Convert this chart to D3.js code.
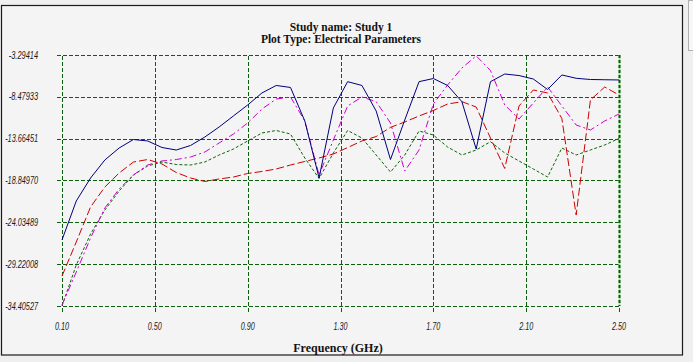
<!DOCTYPE html>
<html>
<head>
<meta charset="utf-8">
<script src="https://cdn.jsdelivr.net/npm/d3@7"></script>
<style>
  html, body { margin: 0; padding: 0; background: #efefef; }
  svg { display: block; }
</style>
</head>
<body>
<svg id="chart" width="693" height="362"></svg>
<script>
// ---------- DATA ----------
const titleLines = ["Study name: Study 1", "Plot Type: Electrical Parameters"];
const xAxisTitle = "Frequency (GHz)";
const xTicks = [0.10, 0.50, 0.90, 1.30, 1.70, 2.10, 2.50];
const yTicks = [-3.29414, -8.47933, -13.66451, -18.84970, -24.03489, -29.22008, -34.40527];
const yTickLabels = ["-3.29414", "-8.47933", "-13.66451", "-18.84970", "-24.03489", "-29.22008", "-34.40527"];

const freq = [0.1, 0.1615, 0.2231, 0.2846, 0.3462, 0.4077, 0.4692, 0.5308, 0.5923, 0.6538,
              0.7154, 0.7769, 0.8385, 0.9, 0.9615, 1.0231, 1.0846, 1.1462, 1.2077, 1.2692,
              1.3308, 1.3923, 1.4538, 1.5154, 1.5769, 1.6385, 1.7, 1.7615, 1.8231, 1.8846,
              1.9462, 2.0077, 2.0692, 2.1308, 2.1923, 2.2538, 2.3154, 2.3769, 2.4385, 2.5];

const blueSeries = [-26.22, -21.39, -18.54, -16.31, -14.82, -13.77, -13.95, -14.76, -15.07, -14.51,
                    -13.46, -12.22, -10.85, -9.49, -8.00, -7.07, -7.32, -11.47, -18.54, -9.86,
                    -6.60, -7.07, -10.24, -16.25, -11.35, -6.60, -6.21, -7.07, -9.08, -14.95,
                    -6.60, -5.65, -5.84, -6.27, -7.57, -5.77, -6.18, -6.33, -6.36, -6.39];

const redSeries = [-30.69, -26.47, -22.13, -19.66, -17.92, -16.56, -16.25, -16.80, -17.86, -18.54,
                   -18.97, -18.66, -18.42, -17.98, -17.73, -17.42, -16.93, -16.49, -16.06, -15.57,
                   -14.76, -13.95, -13.40, -12.26, -11.60, -10.85, -10.17, -9.37, -9.08, -9.74,
                   -13.58, -17.36, -9.61, -7.63, -8.00, -11.17, -23.13, -8.87, -7.26, -8.25];

const magentaSeries = [-34.28, -30.19, -25.98, -22.26, -19.90, -18.17, -16.93, -16.43, -16.25, -15.94,
                       -15.32, -14.20, -13.09, -11.72, -9.99, -8.75, -8.50, -11.47, -18.17, -13.83,
                       -9.61, -8.50, -9.08, -11.72, -17.67, -15.07, -9.37, -7.01, -4.91, -3.40,
                       -5.22, -9.49, -11.23, -9.24, -7.26, -9.61, -11.97, -12.59, -11.47, -10.61];

const greenSeries = [-34.40, -29.32, -25.48, -22.51, -20.15, -18.17, -17.05, -16.56, -16.87, -16.93,
                     -16.56, -15.69, -14.95, -13.95, -12.96, -12.65, -13.09, -16.06, -18.60, -15.44,
                     -12.65, -13.58, -15.69, -17.80, -15.69, -12.71, -13.21, -14.70, -15.69, -15.07,
                     -14.04, -15.44, -16.43, -17.42, -18.42, -14.82, -15.69, -15.07, -14.45, -13.64];

// ---------- DRAW ----------
const svg = d3.select("#chart");

// panel
svg.append("rect").attr("x", 0).attr("y", 0).attr("width", 693).attr("height", 362).attr("fill", "#efefef");
svg.append("rect").attr("x", 1.5).attr("y", 5.5).attr("width", 681).attr("height", 349.5)
   .attr("fill", "#f4f4f4").attr("stroke", "#1a1a1a").attr("stroke-width", 1.2);
// scrollbar-like strip on the right
svg.append("rect").attr("x", 688.5).attr("y", 0.5).attr("width", 5).attr("height", 50)
   .attr("fill", "#f7f7f7").attr("stroke", "#b0b0b0").attr("stroke-width", 1);

const x = d3.scaleLinear().domain([0.10, 2.50]).range([62, 619]);
const y = d3.scaleLinear().domain([-34.40527, -3.29414]).range([306, 55]);

const gridColor = "#0b5e0b";
const g = svg.append("g");

// horizontal grid lines (via axis)
const yAxis = d3.axisLeft(y).tickValues(yTicks).tickSize(-(619 - 57)).tickFormat("");
const yg = g.append("g").attr("transform", "translate(57,0)").call(yAxis);
yg.select(".domain").remove();
yg.selectAll(".tick line").attr("stroke", gridColor).attr("stroke-dasharray", "4,2").attr("shape-rendering", "crispEdges");

// vertical grid lines (via axis)
const xAxis = d3.axisBottom(x).tickValues(xTicks).tickSize(-(312 - 55)).tickFormat("");
const xg = g.append("g").attr("transform", "translate(0,312)").call(xAxis);
xg.select(".domain").remove();
xg.selectAll(".tick line").attr("stroke", gridColor).attr("stroke-dasharray", "4,2").attr("shape-rendering", "crispEdges");

// heavier right edge
svg.append("line").attr("x1", x(2.5) + 0.5).attr("x2", x(2.5) + 0.5).attr("y1", 55).attr("y2", 306)
   .attr("stroke", "#a8e8a8").attr("stroke-width", 2);
svg.append("line").attr("x1", x(2.5) + 0.5).attr("x2", x(2.5) + 0.5).attr("y1", 55).attr("y2", 306)
   .attr("stroke", "#0a5a0a").attr("stroke-width", 2).attr("stroke-dasharray", "3,2");

// tick labels (narrow italic, compressed to the reference widths)
const labelFont = "'Liberation Sans', Arial, sans-serif";
svg.append("g").selectAll("text").data(yTicks).join("text")
   .attr("x", 38).attr("y", d => y(d) + 3.5)
   .attr("text-anchor", "end")
   .attr("font-family", labelFont).attr("font-style", "italic").attr("font-size", "10px")
   .attr("fill", "#1a1a1a")
   .attr("textLength", (d, i) => yTickLabels[i].length * 3.65)
   .attr("lengthAdjust", "spacingAndGlyphs")
   .text((d, i) => yTickLabels[i]);

svg.append("g").selectAll("text").data(xTicks).join("text")
   .attr("x", d => x(d)).attr("y", 330)
   .attr("text-anchor", "middle")
   .attr("font-family", labelFont).attr("font-style", "italic").attr("font-size", "10px")
   .attr("fill", "#1a1a1a")
   .attr("textLength", 14)
   .attr("lengthAdjust", "spacingAndGlyphs")
   .text(d => d.toFixed(2));

// titles
const titleFont = "'Liberation Serif', 'Times New Roman', serif";
svg.append("g").selectAll("text").data(titleLines).join("text")
   .attr("x", 341).attr("y", (d, i) => 31 + i * 12)
   .attr("text-anchor", "middle")
   .attr("font-family", titleFont).attr("font-weight", "bold").attr("font-size", "11.5px")
   .attr("fill", "#111")
   .text(d => d);

svg.append("text").attr("x", 338).attr("y", 352).attr("text-anchor", "middle")
   .attr("font-family", titleFont).attr("font-weight", "bold").attr("font-size", "12px")
   .attr("fill", "#111").text(xAxisTitle);

// series
const line = d3.line().x((d, i) => x(freq[i])).y(d => y(d));
const series = [
  { data: greenSeries, color: "#0a640a", dash: "3,2" },
  { data: magentaSeries, color: "#cc00cc", dash: "7,3,2,3" },
  { data: redSeries, color: "#cc0000", dash: "8,3" },
  { data: blueSeries, color: "#00007f", dash: null }
];
svg.append("g").selectAll("path").data(series).join("path")
   .attr("d", s => line(s.data))
   .attr("fill", "none")
   .attr("stroke", s => s.color)
   .attr("stroke-width", 1)
   .attr("stroke-dasharray", s => s.dash);
</script>
</body>
</html>
